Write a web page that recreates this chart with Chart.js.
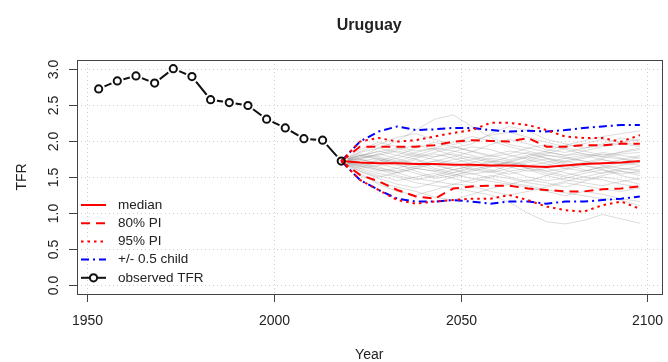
<!DOCTYPE html>
<html>
<head>
<meta charset="utf-8">
<title>Uruguay TFR</title>
<script src="https://cdn.jsdelivr.net/npm/chart.js@4/dist/chart.umd.min.js"></script>
<style>
  body { margin: 0; background: #fff; }
  canvas { display: block; }
</style>
</head>
<body>
<canvas id="tfr" width="668" height="362"></canvas>
<script>
// observed TFR, mid-period years
const obsYears = [1953, 1958, 1963, 1968, 1973, 1978, 1983, 1988, 1993, 1998, 2003, 2008, 2013, 2018];
const obsTFR = [2.72, 2.83, 2.90, 2.80, 3.00, 2.89, 2.57, 2.53, 2.49, 2.30, 2.18, 2.03, 2.01, 1.72];

// projection years
const projYears = [2018, 2023, 2028, 2033, 2038, 2043, 2048, 2053, 2058, 2063, 2068, 2073, 2078, 2083, 2088, 2093, 2098];

const median = [1.72, 1.70, 1.69, 1.69, 1.68, 1.68, 1.67, 1.67, 1.66, 1.66, 1.65, 1.64, 1.66, 1.68, 1.69, 1.70, 1.72];
const pi80Upper = [1.72, 1.92, 1.92, 1.92, 1.92, 1.94, 1.99, 2.01, 2.00, 1.99, 2.04, 1.92, 1.92, 1.94, 1.94, 1.96, 1.96];
const pi80Lower = [1.72, 1.53, 1.44, 1.32, 1.23, 1.20, 1.34, 1.37, 1.38, 1.38, 1.34, 1.32, 1.30, 1.30, 1.33, 1.34, 1.37];
const pi95Upper = [1.72, 1.99, 2.04, 1.99, 2.01, 2.06, 2.11, 2.15, 2.25, 2.25, 2.22, 2.15, 2.06, 2.04, 2.04, 1.99, 2.08];
const pi95Lower = [1.72, 1.46, 1.32, 1.18, 1.13, 1.16, 1.18, 1.20, 1.20, 1.25, 1.18, 1.09, 1.04, 1.02, 1.11, 1.16, 1.06];
const halfUpper = [1.72, 1.99, 2.13, 2.20, 2.15, 2.16, 2.18, 2.18, 2.15, 2.13, 2.14, 2.13, 2.15, 2.18, 2.20, 2.22, 2.22];
const halfLower = [1.72, 1.46, 1.32, 1.20, 1.16, 1.16, 1.18, 1.16, 1.13, 1.16, 1.16, 1.13, 1.16, 1.16, 1.18, 1.20, 1.23];

// sample trajectories (grey)
const trajectories = [
  [1.72, 1.80, 1.85, 1.90, 1.82, 1.78, 1.85, 1.92, 1.88, 1.80, 1.75, 1.82, 1.90, 1.86, 1.80, 1.84, 1.88],
  [1.72, 1.60, 1.52, 1.45, 1.50, 1.55, 1.48, 1.42, 1.50, 1.58, 1.62, 1.55, 1.50, 1.46, 1.52, 1.58, 1.55],
  [1.72, 1.75, 1.68, 1.62, 1.70, 1.78, 1.82, 1.76, 1.70, 1.65, 1.72, 1.80, 1.78, 1.72, 1.68, 1.74, 1.80],
  [1.72, 1.85, 1.95, 2.05, 2.10, 2.02, 1.95, 2.00, 2.08, 2.12, 2.05, 1.98, 1.92, 1.96, 2.02, 1.98, 1.94],
  [1.72, 1.55, 1.40, 1.30, 1.25, 1.32, 1.40, 1.38, 1.30, 1.25, 1.30, 1.36, 1.42, 1.38, 1.33, 1.30, 1.35],
  [1.72, 1.68, 1.72, 1.80, 1.75, 1.66, 1.60, 1.65, 1.72, 1.70, 1.62, 1.58, 1.62, 1.68, 1.74, 1.70, 1.66],
  [1.72, 1.78, 1.90, 2.00, 2.15, 2.30, 2.36, 2.20, 2.05, 1.95, 1.90, 1.85, 1.80, 1.82, 1.78, 1.75, 1.70],
  [1.72, 1.62, 1.55, 1.50, 1.42, 1.38, 1.35, 1.30, 1.25, 1.15, 1.00, 0.88, 0.85, 0.90, 0.98, 0.92, 0.86],
  [1.72, 1.70, 1.62, 1.58, 1.65, 1.72, 1.68, 1.60, 1.56, 1.62, 1.70, 1.75, 1.68, 1.60, 1.55, 1.60, 1.65],
  [1.72, 1.82, 1.78, 1.72, 1.80, 1.88, 1.92, 1.85, 1.78, 1.82, 1.90, 1.95, 1.88, 1.82, 1.78, 1.85, 1.90],
  [1.72, 1.65, 1.58, 1.62, 1.55, 1.48, 1.52, 1.60, 1.66, 1.58, 1.50, 1.45, 1.48, 1.55, 1.60, 1.52, 1.46],
  [1.72, 1.76, 1.82, 1.75, 1.68, 1.72, 1.78, 1.85, 1.95, 2.02, 1.96, 1.88, 1.84, 1.90, 1.96, 2.04, 2.00],
  [1.72, 1.58, 1.48, 1.40, 1.35, 1.42, 1.50, 1.55, 1.48, 1.42, 1.38, 1.32, 1.28, 1.24, 1.20, 1.18, 1.10],
  [1.72, 1.74, 1.70, 1.66, 1.62, 1.58, 1.64, 1.70, 1.76, 1.72, 1.66, 1.70, 1.76, 1.80, 1.74, 1.68, 1.72],
  [1.72, 1.88, 1.98, 1.92, 1.86, 1.90, 1.98, 2.06, 2.00, 1.92, 1.86, 1.80, 1.76, 1.72, 1.66, 1.62, 1.58],
  [1.72, 1.66, 1.60, 1.56, 1.62, 1.68, 1.74, 1.78, 1.72, 1.64, 1.58, 1.62, 1.56, 1.50, 1.46, 1.40, 1.36],
  [1.72, 1.72, 1.76, 1.70, 1.64, 1.68, 1.60, 1.54, 1.58, 1.66, 1.74, 1.68, 1.62, 1.58, 1.64, 1.70, 1.78],
  [1.72, 1.80, 1.74, 1.68, 1.74, 1.62, 1.56, 1.64, 1.70, 1.78, 1.84, 1.76, 1.70, 1.76, 1.82, 1.76, 1.70],
  [1.72, 1.52, 1.42, 1.36, 1.30, 1.22, 1.18, 1.26, 1.34, 1.40, 1.46, 1.42, 1.36, 1.44, 1.50, 1.46, 1.40],
  [1.72, 1.78, 1.86, 1.80, 1.90, 1.98, 1.92, 1.86, 1.80, 1.74, 1.80, 1.86, 1.94, 2.00, 2.06, 2.10, 2.14],
  [1.72, 1.64, 1.70, 1.76, 1.84, 1.90, 1.86, 1.80, 1.74, 1.68, 1.62, 1.66, 1.72, 1.78, 1.84, 1.80, 1.76],
  [1.72, 1.70, 1.64, 1.56, 1.48, 1.44, 1.40, 1.46, 1.52, 1.48, 1.42, 1.38, 1.44, 1.50, 1.56, 1.62, 1.60],
  [1.72, 1.84, 1.90, 1.84, 1.78, 1.84, 1.90, 1.96, 2.10, 2.20, 2.14, 2.02, 1.96, 1.90, 1.94, 1.98, 2.02],
  [1.72, 1.62, 1.66, 1.72, 1.68, 1.60, 1.54, 1.48, 1.44, 1.40, 1.36, 1.30, 1.24, 1.30, 1.26, 1.20, 1.16],
  [1.72, 1.76, 1.80, 1.86, 1.80, 1.74, 1.70, 1.74, 1.80, 1.86, 1.82, 1.76, 1.72, 1.66, 1.62, 1.66, 1.70],
  [1.72, 1.58, 1.50, 1.56, 1.62, 1.58, 1.52, 1.58, 1.64, 1.70, 1.66, 1.58, 1.52, 1.58, 1.64, 1.58, 1.52],
  [1.72, 1.74, 1.82, 1.88, 1.94, 1.88, 1.80, 1.72, 1.66, 1.70, 1.78, 1.84, 1.80, 1.86, 1.92, 1.96, 1.92],
  [1.72, 1.68, 1.60, 1.52, 1.46, 1.52, 1.60, 1.66, 1.60, 1.54, 1.60, 1.52, 1.46, 1.42, 1.38, 1.44, 1.48],
  [1.72, 1.80, 1.76, 1.70, 1.76, 1.82, 1.76, 1.68, 1.64, 1.72, 1.78, 1.72, 1.66, 1.70, 1.76, 1.82, 1.84],
  [1.72, 1.66, 1.74, 1.68, 1.58, 1.50, 1.56, 1.62, 1.58, 1.50, 1.44, 1.52, 1.60, 1.66, 1.60, 1.54, 1.58]
];

// axis ticks
const xTicks = [1950, 2000, 2050, 2100];
const yTicks = [0, 0.5, 1, 1.5, 2, 2.5, 3];
const yTickLabels = ['0.0', '0.5', '1.0', '1.5', '2.0', '2.5', '3.0'];

const FONT = '"Liberation Sans", Arial, Helvetica, sans-serif';
const RED = '#ff0000';
const BLUE = '#0000ff';

function pts(xs, ys) {
  return xs.map((x, i) => ({x: x, y: ys[i]}));
}

function line(label, ys, color, dash) {
  return {
    label: label,
    data: pts(projYears, ys),
    borderColor: color,
    borderWidth: 2,
    borderDash: dash,
    pointRadius: 0,
    order: 2
  };
}

const datasets = [];
trajectories.forEach(t => {
  datasets.push({
    label: '',
    data: pts(projYears, t),
    borderColor: 'rgba(140,140,140,0.38)',
    borderWidth: 0.8,
    pointRadius: 0,
    order: 10,
    legendHide: true
  });
});
datasets.push(line('median', median, RED, []));
datasets.push(line('80% PI', pi80Upper, RED, [9, 6]));
datasets.push(Object.assign(line('', pi80Lower, RED, [9, 6]), {legendHide: true}));
datasets.push(line('95% PI', pi95Upper, RED, [2.5, 4]));
datasets.push(Object.assign(line('', pi95Lower, RED, [2.5, 4]), {legendHide: true}));
datasets.push(line('+/- 0.5 child', halfUpper, BLUE, [8, 4, 2, 4]));
datasets.push(Object.assign(line('', halfLower, BLUE, [8, 4, 2, 4]), {legendHide: true}));

// observed: line, white gap around points (R type = "b"), then hollow circles
datasets.push({
  label: '',
  data: pts(obsYears, obsTFR),
  borderColor: '#111',
  borderWidth: 2,
  pointRadius: 0,
  order: 9,
  legendHide: true
});
datasets.push({
  label: '',
  data: pts(obsYears, obsTFR),
  showLine: false,
  pointRadius: 6.5,
  pointBorderWidth: 0,
  pointBackgroundColor: '#fff',
  pointBorderColor: '#fff',
  order: 8,
  legendHide: true
});
datasets.push({
  label: 'observed TFR',
  data: pts(obsYears, obsTFR),
  showLine: false,
  borderColor: '#111',
  borderWidth: 2,
  pointRadius: 3.6,
  pointBorderWidth: 2,
  pointBorderColor: '#111',
  pointBackgroundColor: 'rgba(255,255,255,0)',
  order: 0
});

// R-style frame, grid, ticks, titles and legend
const rPlot = {
  id: 'rPlot',
  beforeDatasetsDraw(chart) {
    const {ctx, chartArea: a, scales: {x, y}} = chart;
    ctx.save();
    ctx.strokeStyle = '#cfcfcf';
    ctx.lineWidth = 1;
    ctx.setLineDash([1, 3]);
    xTicks.forEach(v => {
      const px = Math.round(x.getPixelForValue(v)) + 0.5;
      ctx.beginPath(); ctx.moveTo(px, a.top); ctx.lineTo(px, a.bottom); ctx.stroke();
    });
    yTicks.forEach(v => {
      const py = Math.round(y.getPixelForValue(v)) + 0.5;
      ctx.beginPath(); ctx.moveTo(a.left, py); ctx.lineTo(a.right, py); ctx.stroke();
    });
    ctx.restore();
  },
  afterDraw(chart) {
    const {ctx, chartArea: a, scales: {x, y}} = chart;
    ctx.save();
    ctx.setLineDash([]);

    // box
    ctx.strokeStyle = '#444';
    ctx.lineWidth = 1;
    ctx.strokeRect(Math.round(a.left) + 0.5, Math.round(a.top) + 0.5,
      Math.round(a.right - a.left), Math.round(a.bottom - a.top));

    // x ticks
    ctx.fillStyle = '#222';
    ctx.font = '14px ' + FONT;
    ctx.textAlign = 'center';
    ctx.textBaseline = 'middle';
    xTicks.forEach(v => {
      const px = Math.round(x.getPixelForValue(v)) + 0.5;
      ctx.beginPath(); ctx.moveTo(px, a.bottom); ctx.lineTo(px, a.bottom + 8); ctx.stroke();
      ctx.fillText(String(v), px, a.bottom + 27);
    });

    // y ticks (labels parallel to axis)
    yTicks.forEach((v, i) => {
      const py = Math.round(y.getPixelForValue(v)) + 0.5;
      ctx.beginPath(); ctx.moveTo(a.left - 8, py); ctx.lineTo(a.left, py); ctx.stroke();
      ctx.save();
      ctx.translate(a.left - 23, py);
      ctx.rotate(-Math.PI / 2);
      ctx.fillText(yTickLabels[i], 0, 0);
      ctx.restore();
    });

    // titles
    const cx = (a.left + a.right) / 2;
    ctx.font = 'bold 16px ' + FONT;
    ctx.textBaseline = 'alphabetic';
    ctx.fillText('Uruguay', cx, 30);
    ctx.font = '14px ' + FONT;
    ctx.fillText('Year', cx, 359);
    ctx.save();
    ctx.translate(26, (a.top + a.bottom) / 2);
    ctx.rotate(-Math.PI / 2);
    ctx.fillText('TFR', 0, 0);
    ctx.restore();

    // legend (no frame)
    const items = chart.data.datasets.filter(d => !d.legendHide);
    ctx.font = '13.5px ' + FONT;
    ctx.textAlign = 'left';
    ctx.textBaseline = 'middle';
    items.forEach((d, i) => {
      const ly = 205 + i * 18.2;
      ctx.strokeStyle = d.borderColor;
      ctx.lineWidth = d.borderWidth;
      ctx.setLineDash(d.borderDash || []);
      ctx.beginPath(); ctx.moveTo(81, ly); ctx.lineTo(106, ly); ctx.stroke();
      ctx.setLineDash([]);
      if (d.pointRadius) {
        ctx.beginPath();
        ctx.arc(93.5, ly, d.pointRadius, 0, Math.PI * 2);
        ctx.fillStyle = '#fff';
        ctx.fill();
        ctx.lineWidth = d.pointBorderWidth;
        ctx.stroke();
      }
      ctx.fillStyle = '#222';
      ctx.fillText(d.label, 118, ly);
    });
    ctx.restore();
  }
};

new Chart(document.getElementById('tfr'), {
  type: 'line',
  data: {datasets: datasets},
  options: {
    responsive: false,
    devicePixelRatio: 1,
    animation: false,
    layout: {padding: {left: 77, top: 60, right: 3, bottom: 68}},
    elements: {line: {tension: 0}},
    plugins: {legend: {display: false}, tooltip: {enabled: false}},
    scales: {
      x: {type: 'linear', min: 1947.2, max: 2103.8, display: false},
      y: {type: 'linear', min: -0.12, max: 3.12, display: false}
    }
  },
  plugins: [rPlot]
});
</script>
</body>
</html>
